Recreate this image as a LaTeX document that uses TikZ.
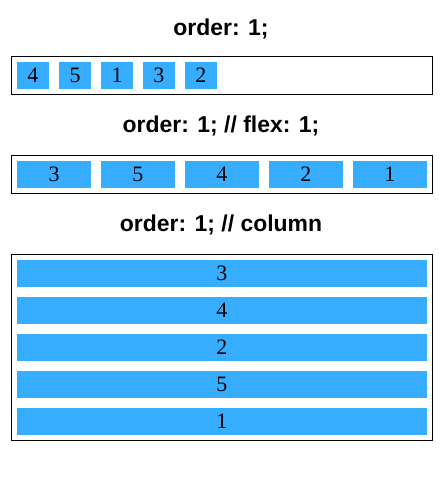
\documentclass[tikz,border=0pt]{standalone}
\usepackage{fontspec}
\setmainfont{Liberation Serif}
\newfontfamily\titlefont{Liberation Sans}
\definecolor{itemblue}{RGB}{54,173,255}
\begin{document}
\begin{tikzpicture}[x=0.75pt,y=-0.75pt,
  title/.style={font=\titlefont\bfseries\fontsize{17.2pt}{20pt}\selectfont, anchor=base, inner sep=0pt},
  frame/.style={draw=black, line width=0.75pt, minimum width=315.75pt, inner sep=0pt},
  item/.style={fill=itemblue, inner sep=0pt, font=\fontsize{16.5pt}{18pt}\selectfont},
  rowitem/.style={item, minimum width=24pt, minimum height=20pt},
  flexitem/.style={item, minimum width=55.5pt, minimum height=20pt},
  colitem/.style={item, minimum width=307.5pt, minimum height=20.25pt}]
\useasboundingbox[fill=white] (0,0) rectangle (441,480);
% section 1
\node[title] (t1) at (221,35) {order: 1;};
\node[frame, minimum height=28.5pt] (f1) at (222,75.5) {};
\node[rowitem] (a1) at (33,75.3) {4};
\node[rowitem] (a2) at (75,75.3) {5};
\node[rowitem] (a3) at (117,75.3) {1};
\node[rowitem] (a4) at (159,75.3) {3};
\node[rowitem] (a5) at (201,75.3) {2};
% section 2
\node[title] (t2) at (221,132.7) {order: 1; // flex: 1;};
\node[frame, minimum height=28.3pt] (f2) at (222,174.2) {};
\node[flexitem] (b1) at (54,174.3) {3};
\node[flexitem] (b2) at (138,174.3) {5};
\node[flexitem] (b3) at (222,174.3) {4};
\node[flexitem] (b4) at (306,174.3) {2};
\node[flexitem] (b5) at (390,174.3) {1};
% section 3
\node[title] (t3) at (221,231.7) {order: 1; // column};
\node[frame, minimum height=139.3pt] (f3) at (222,347.2) {};
\node[colitem] (c1) at (222,273.3) {3};
\node[colitem] (c2) at (222,310.3) {4};
\node[colitem] (c3) at (222,347.3) {2};
\node[colitem] (c4) at (222,384.3) {5};
\node[colitem] (c5) at (222,421.3) {1};
\end{tikzpicture}
\end{document}
